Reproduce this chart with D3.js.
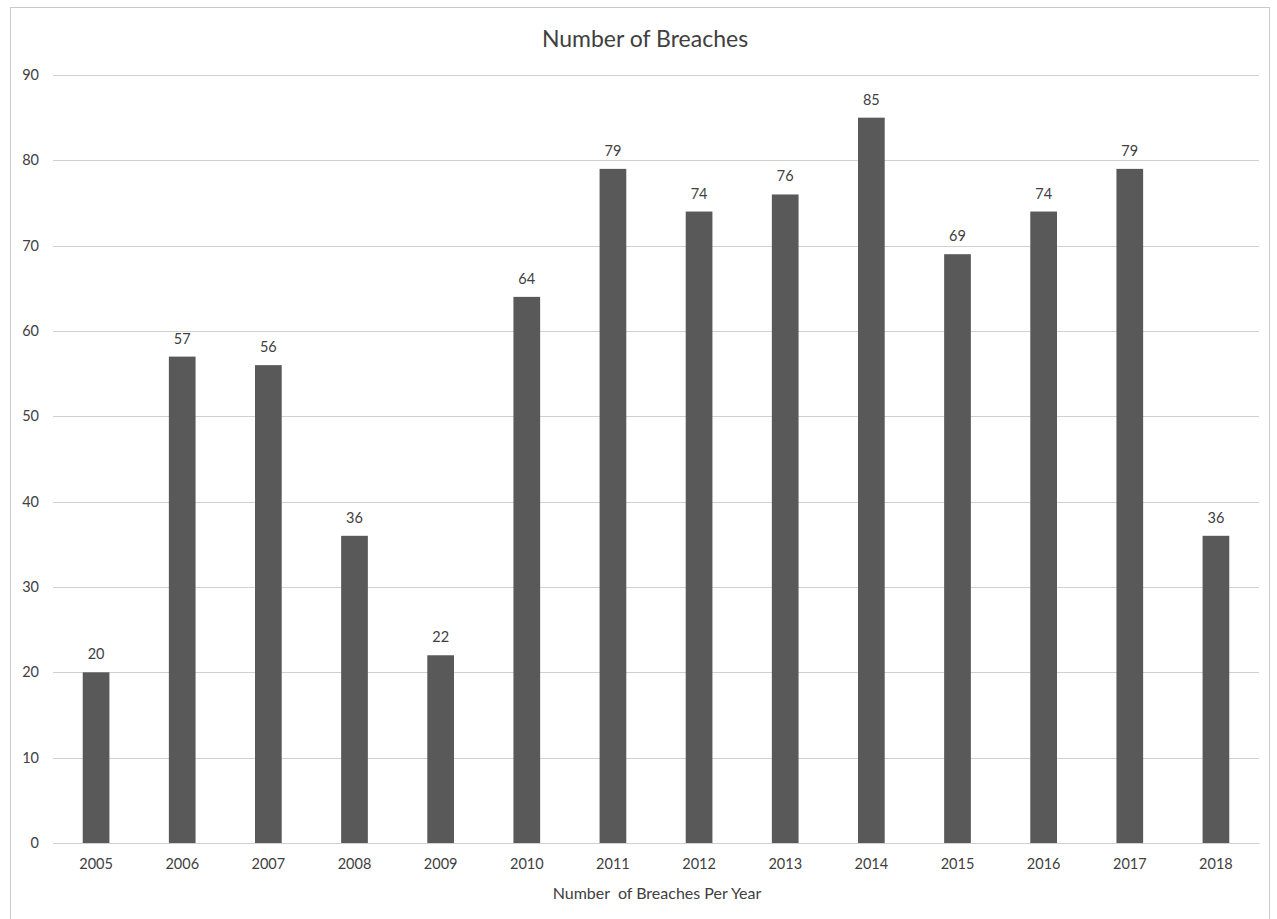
<!DOCTYPE html>
<html>
<head>
<meta charset="utf-8">
<script src="https://cdn.jsdelivr.net/npm/d3@7"></script>
<style>
  html, body { margin: 0; padding: 0; background: #fff; }
  svg { display: block; }
  text { font-family: Lato, "Open Sans", sans-serif; fill: #404040; }
</style>
</head>
<body>
<svg id="chart" width="1277" height="919"></svg>
<script>
// Breaches recorded per year
const years = ["2005","2006","2007","2008","2009","2010","2011","2012","2013","2014","2015","2016","2017","2018"];
const breaches = [20, 57, 56, 36, 22, 64, 79, 74, 76, 85, 69, 74, 79, 36];
const yTicks = [0, 10, 20, 30, 40, 50, 60, 70, 80, 90];

const svg = d3.select("#chart");
const margin = { left: 53, right: 18, top: 75, bottom: 76 };
const W = 1277, H = 919;
const plotW = W - margin.left - margin.right;
const plotH = H - margin.top - margin.bottom;
const font = "Lato, 'Open Sans', sans-serif";

// chart frame
svg.append("rect")
  .attr("x", 10.5).attr("y", 7.5)
  .attr("width", 1259).attr("height", 912)
  .attr("fill", "#fff").attr("stroke", "#c8c8c8").attr("stroke-width", 1);

const g = svg.append("g").attr("transform", `translate(${margin.left},${margin.top})`);

const x = d3.scaleBand().domain(years).range([0, plotW]).paddingInner(0.69).paddingOuter(0.345);
const y = d3.scaleLinear().domain([0, 90]).range([plotH, 0]);

// horizontal gridlines
g.append("g")
  .selectAll("line")
  .data(yTicks)
  .join("line")
  .attr("x1", 0).attr("x2", plotW)
  .attr("y1", d => Math.round(y(d)) + 0.5).attr("y2", d => Math.round(y(d)) + 0.5)
  .attr("stroke", "#d0d0d0").attr("stroke-width", 1);

// y axis labels
const yAxis = g.append("g").call(d3.axisLeft(y).tickValues(yTicks).tickSize(0).tickPadding(14));
yAxis.select(".domain").remove();
yAxis.selectAll("text").attr("font-size", 14.5).attr("fill", "#383838").style("font-family", font);

// bars
g.append("g")
  .selectAll("rect")
  .data(years)
  .join("rect")
  .attr("x", d => x(d))
  .attr("width", x.bandwidth())
  .attr("y", (d, i) => y(breaches[i]))
  .attr("height", (d, i) => plotH - y(breaches[i]))
  .attr("fill", "#595959");

// value labels
g.append("g")
  .selectAll("text")
  .data(years)
  .join("text")
  .attr("x", d => x(d) + x.bandwidth() / 2)
  .attr("y", (d, i) => y(breaches[i]) - 13)
  .attr("text-anchor", "middle")
  .attr("font-size", 14.5)
  .attr("fill", "#383838")
  .text((d, i) => breaches[i]);

// x axis
const xAxis = g.append("g").attr("transform", `translate(0,${plotH})`)
  .call(d3.axisBottom(x).tickSize(0).tickPadding(16));
xAxis.select(".domain").attr("stroke", "#d0d0d0");
xAxis.selectAll("text").attr("font-size", 14.5).attr("fill", "#383838").style("font-family", font);

// titles
svg.append("text")
  .attr("x", 645).attr("y", 47)
  .attr("text-anchor", "middle")
  .attr("font-size", 23)
  .attr("fill", "#333")
  .text("Number of Breaches");

svg.append("text")
  .attr("x", 657).attr("y", 899)
  .attr("text-anchor", "middle")
  .attr("font-size", 16)
  .attr("fill", "#383838")
  .style("white-space", "pre")
  .text("Number  of Breaches Per Year");
</script>
</body>
</html>
